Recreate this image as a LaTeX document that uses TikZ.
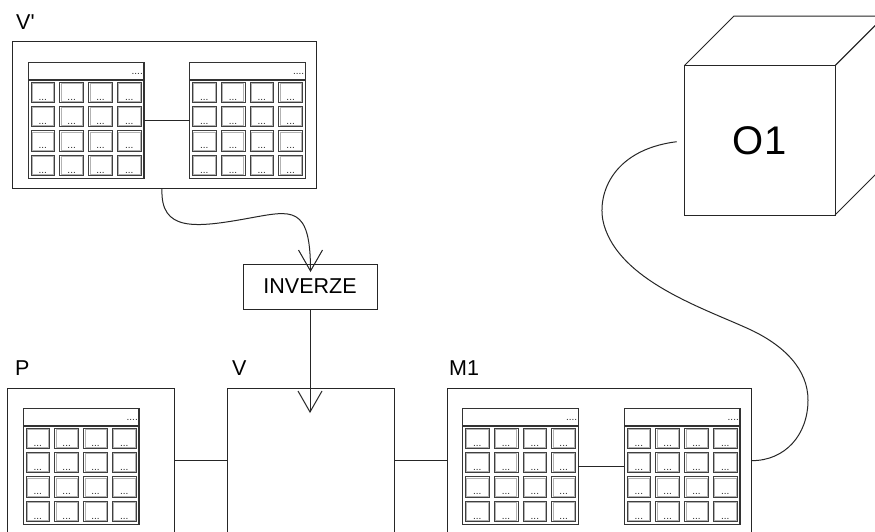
\documentclass[tikz,border=0pt]{standalone}
\usepackage{fontspec}
\setmainfont{Liberation Sans}
\usetikzlibrary{arrows.meta,calc}
\tikzset{
  box/.style={draw=black!85, line width=1pt, fill=none, inner sep=0pt, outer sep=0pt, anchor=north west},
  tbl/.style={draw=black!80, line width=1.2pt, inner sep=0pt, outer sep=0pt, minimum width=115.7pt, minimum height=116pt},
  tblline/.style={draw=black!80, line width=1.2pt},
  cell/.style={draw=black!75, line width=0.7pt, inner sep=0pt, outer sep=0pt, minimum width=23.7pt, minimum height=20.3pt},
  cellin/.style={draw=black!30, line width=0.6pt},
  dots/.style={font=\fontsize{10}{11}\selectfont, inner sep=0.5pt, text=black!85},
  lbl/.style={font=\fontsize{21.5}{25}\selectfont, inner sep=0pt, anchor=base west},
  conn/.style={draw=black!85, line width=1pt},
  openarrow/.style={-{Straight Barb[length=21pt,width=24pt,line width=1pt]}},
}
\newcommand\mytable[3]{%
  \node[tbl, anchor=north west] (#1) at (#2,#3) {};
  \draw[tblline] ([yshift=-17.7pt]#1.north west) -- ([yshift=-17.7pt]#1.north east);
  \node[dots, anchor=south east] (#1-h) at ([xshift=-0.5pt,yshift=-12.5pt]#1.north east) {....};
  \foreach \i in {0,...,3}{
    \foreach \j in {0,...,3}{
      \node[cell, anchor=north west] (#1-\i-\j) at ([xshift={2.7pt+28.8pt*\i}, yshift={-19.7pt-24.4pt*\j}]#1.north west) {};
      \draw[cellin] ([shift={(1.2pt,-1.2pt)}]#1-\i-\j.north west) rectangle ([shift={(-1.2pt,1.2pt)}]#1-\i-\j.south east);
      \node[dots, anchor=south] (#1-\i-\j-t) at ([yshift=1.5pt]#1-\i-\j.south) {...};
    }
  }
}
\begin{document}
\begin{tikzpicture}[x=1pt,y=-1pt]
\useasboundingbox (0,0) rectangle (875,531);
\clip (0,0) rectangle (875,531);
\fill[white] (0,0) rectangle (875,531);

% containers
\node[box, minimum width=304pt, minimum height=146.6pt] (Vp) at (12.7,41.7) {};
\node[box, minimum width=167.4pt, minimum height=144.7pt] (P) at (7.3,388.3) {};
\node[box, minimum width=167pt, minimum height=144.7pt] (V) at (227.7,388.3) {};
\node[box, minimum width=304.4pt, minimum height=144.7pt] (M1) at (447.3,388.3) {};
\node[box, minimum width=134pt, minimum height=45pt, font=\fontsize{21.5}{25}\selectfont] (INV) at (243,264) {INVERZE};
\node[box, minimum width=150.7pt, minimum height=149.3pt, font=\fontsize{40}{44}\selectfont] (O1) at (684.3,65.7) {O1};

% cube faces
\draw[conn, line join=round] (O1.north west) -- ++(49.7,-49.7) -- ++(150.7,0) -- (O1.north east);
\draw[conn, line join=round] (O1.north east) -- ++(49.7,-49.7) -- ++(0,149.3) -- (O1.south east);

% labels
\node[lbl] (lVp) at (16,29.3) {V\textquotesingle};
\node[lbl] (lP) at (15,375) {P};
\node[lbl] (lV) at (232,375) {V};
\node[lbl] (lM1) at (449,375) {M1};

% tables
\mytable{ta}{28.3}{62.3}
\mytable{tb}{189.7}{62.3}
\mytable{tp}{23.3}{408.3}
\mytable{tc}{462.7}{408.3}
\mytable{td}{624.3}{408.3}

% connectors
\draw[conn] (ta.east) -- (tb.west);
\draw[conn] (tc.east) -- (td.west);
\draw[conn] (P.east) -- (V.west);
\draw[conn] (V.east) -- (M1.west);

\coordinate (vpout) at (162,188.3);
\coordinate (invtip) at (310.5,272);
\coordinate (vtip) at (310,413);
\coordinate (o1in) at (676.7,141.7);

\draw[conn, openarrow] (vpout) .. controls (160,232) and (195,228) .. (250,218)
   .. controls (292,210.4) and (310.5,205) .. (invtip);
\draw[conn, openarrow] (INV.south) -- (vtip);
\draw[conn] (M1.east) .. controls (785,460.7) and (808,435) .. (808,400)
   .. controls (808,370) and (785,345) .. (746.7,328)
   .. controls (700,307) and (620,280) .. (604,225)
   .. controls (596,197.5) and (610,150) .. (o1in);
\end{tikzpicture}
\end{document}
